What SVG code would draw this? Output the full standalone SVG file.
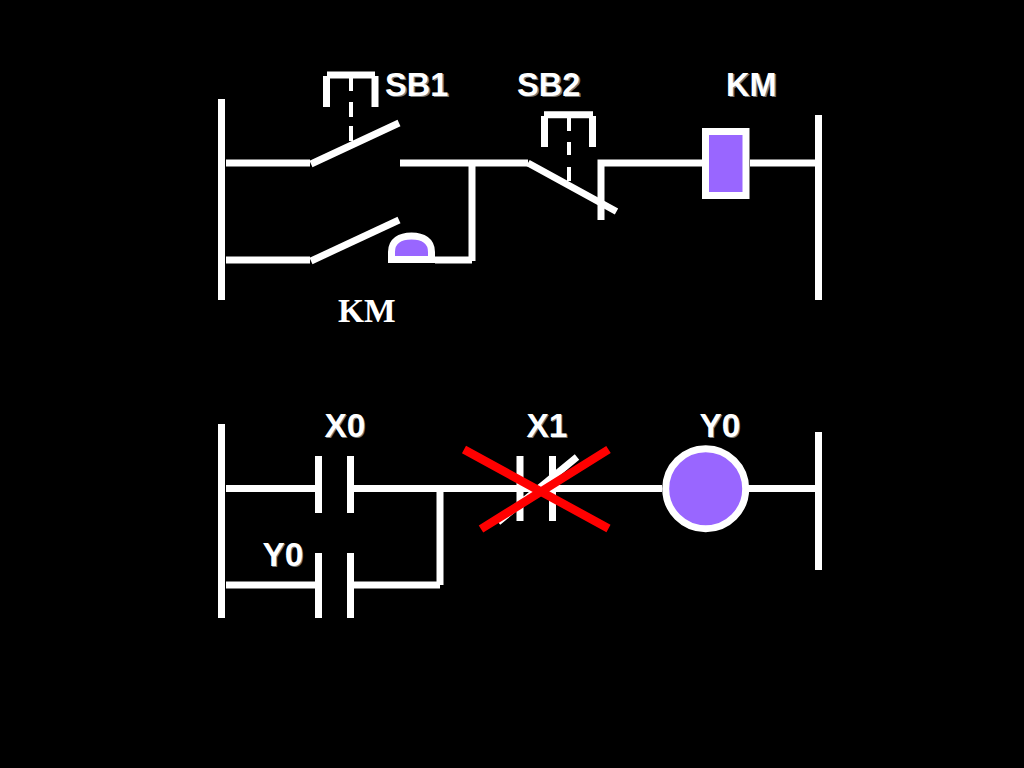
<svg xmlns="http://www.w3.org/2000/svg" width="1024" height="768" viewBox="0 0 1024 768">
<style>
.w{fill:none;stroke:#fff;stroke-width:7}
.d{fill:none;stroke:#fff;stroke-width:4}
.r{fill:none;stroke:#f00;stroke-width:8.5}
.p{fill:#96f;stroke:#fff;stroke-width:7}
.t{font-family:"Liberation Sans",Arial,sans-serif;font-weight:700;font-size:32.500px;fill:#fff}
.b{font-size:33.500px}
.t2{font-family:"Liberation Serif","Times New Roman",serif;font-weight:700;font-size:33.500px;fill:#fff}
.s{fill:#777}
</style>
<rect width="1024" height="768" fill="#000"/>
<g id="connectors">
<path class="w" d="M226 163H310M400 163H528M472 163V261M226 260H310M435 260H472"/>
<path class="w" d="M601 220V163H702M750 163H816"/>
<path class="w" d="M226 488.500H315M354 488.500H662M748 488.500H816M440 489V585M226 585H315M354 585H440"/>
</g>
<g id="bus-left-top"><path class="w" d="M221.500 99V300"/></g>
<g id="bus-right-top"><path class="w" d="M818.500 115V300"/></g>
<g id="bus-left-bottom"><path class="w" d="M221.500 424V618"/></g>
<g id="bus-right-bottom"><path class="w" d="M818.500 432V570"/></g>
<g id="sb1">
<path class="w" d="M326.500 107V76M375 107V76M327 75H375M311 164L399 123"/>
<path class="d" d="M351 78V91M351 102V117M351 126V141"/>
<text class="t s" x="386.500" y="97">SB1</text><text class="t" x="385" y="95.500">SB1</text>
</g>
<g id="km-contact">
<path class="w" d="M311 261L399 220"/>
<path class="p" d="M391.500 259.500V252C391.500 241 400 236 411.500 236C423 236 431.500 241 431.500 252V259.500Z"/>
<text class="t2" x="338" y="322">KM</text>
</g>
<g id="sb2">
<path class="w" d="M544.500 147V116M592.500 147V116M544 114.700H593M528 163L616.500 211.500"/>
<path class="d" d="M569 118V131M569 142V155M569 167V181"/>
<text class="t s" x="518.500" y="97">SB2</text><text class="t" x="517" y="95.500">SB2</text>
</g>
<g id="km-coil">
<rect class="p" x="705.500" y="131.500" width="40.500" height="64"/>
<text class="t s" x="727.500" y="97">KM</text><text class="t" x="726" y="95.500">KM</text>
</g>
<g id="x0">
<path class="w" d="M318.500 456V513M350.500 456V513"/>
<text class="t b s" x="325.500" y="438">X0</text><text class="t b" x="324.500" y="437">X0</text>
</g>
<g id="y0-contact">
<path class="w" d="M318.500 553V618M350.500 553V618"/>
<text class="t b s" x="263.500" y="567">Y0</text><text class="t b" x="262.500" y="566">Y0</text>
</g>
<g id="x1">
<path class="w" d="M520 456V521M552.500 456V521M498 522L577 457"/>
<text class="t b s" x="527.500" y="438">X1</text><text class="t b" x="526.500" y="437">X1</text>
</g>
<g id="y0-coil">
<circle class="p" cx="705.700" cy="488.700" r="40"/>
<text class="t b s" x="700.500" y="438">Y0</text><text class="t b" x="699.500" y="437">Y0</text>
</g>
<g id="cross">
<path class="r" d="M464 449.500L608.500 528.500M481 529L608.500 449.500"/>
</g>
</svg>
